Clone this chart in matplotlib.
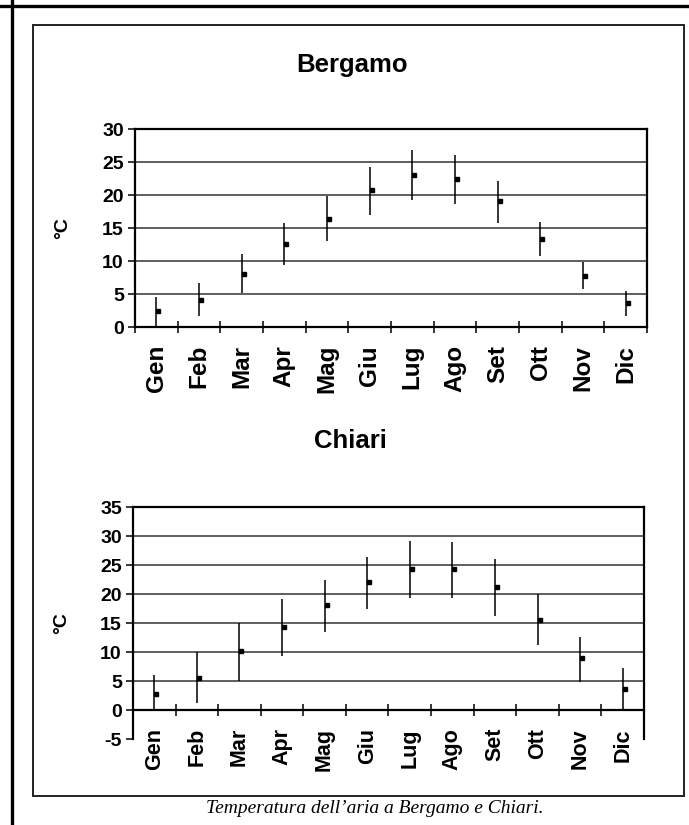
import matplotlib
matplotlib.use('Agg')
import matplotlib.pyplot as plt
import matplotlib.transforms as mtransforms
from matplotlib.lines import Line2D
from matplotlib.patches import Rectangle

mesi = ['Gen', 'Feb', 'Mar', 'Apr', 'Mag', 'Giu', 'Lug', 'Ago', 'Set', 'Ott', 'Nov', 'Dic']

# Bergamo: media, minima e massima (°C)
bg_media = [2.5, 4.1, 8.1, 12.6, 16.4, 20.7, 23.0, 22.4, 19.1, 13.4, 7.7, 3.6]
bg_min = [0.0, 1.6, 5.2, 9.4, 13.1, 17.0, 19.2, 18.6, 15.7, 10.8, 5.7, 1.6]
bg_max = [4.5, 6.7, 11.0, 15.8, 19.8, 24.2, 26.8, 26.1, 22.2, 15.9, 9.8, 5.5]

# Chiari
ch_media = [2.7, 5.5, 10.2, 14.4, 18.1, 22.0, 24.4, 24.3, 21.2, 15.6, 8.9, 3.7]
ch_min = [0.0, 1.2, 5.0, 9.4, 13.5, 17.4, 19.4, 19.3, 16.2, 11.2, 4.8, 0.0]
ch_max = [6.1, 10.0, 15.0, 19.1, 22.5, 26.4, 29.1, 29.0, 26.0, 20.0, 12.6, 7.3]

plt.rcParams['font.family'] = ['Liberation Sans', 'DejaVu Sans']
plt.rcParams['font.weight'] = 'bold'
plt.rcParams['axes.unicode_minus'] = False

fig = plt.figure(figsize=(6.89, 8.25), dpi=100)

# cornice e bordi della pagina
fig.add_artist(Rectangle((0.0479, 0.0352), 0.9448, 0.9345, transform=fig.transFigure,
                         fill=False, lw=1.4, ec='#222222'))
fig.add_artist(Line2D([0, 1], [0.9927, 0.9927], transform=fig.transFigure, lw=2.4, color='black'))
fig.add_artist(Line2D([0.0174, 0.0174], [0, 1], transform=fig.transFigure, lw=2.4, color='black'))


def grafico(ax, media, tmin, tmax, ymin, ymax, fs_mesi):
    if ymin < 0:
        # asse x sullo zero, come in Excel
        ax.spines['bottom'].set_position(('data', 0))
    x = list(range(len(mesi)))
    ax.vlines(x, tmin, tmax, color='black', lw=1.1, zorder=3)
    off = mtransforms.ScaledTranslation(2 / 100, 0, fig.dpi_scale_trans)
    ax.plot(x, media, ls='none', marker='s', ms=3.2, color='black',
            transform=ax.transData + off, zorder=4)
    ax.set_xlim(-0.5, len(mesi) - 0.5)
    ax.set_ylim(ymin, ymax)
    ax.set_yticks(range(ymin, ymax + 1, 5))
    ax.set_xticks(x)
    ax.set_xticklabels(mesi, rotation=90, fontsize=fs_mesi, fontweight='bold')
    ax.set_xticks([i - 0.5 for i in range(len(mesi) + 1)], minor=True)
    ax.tick_params(axis='x', which='major', length=0, pad=13)
    ax.tick_params(axis='x', which='minor', direction='inout', length=8, width=1.1)
    ax.tick_params(axis='y', direction='out', length=5, width=1.1, pad=3, labelsize=14)
    for s in ax.spines.values():
        s.set_linewidth(1.6)
    ax.yaxis.grid(True, color='#333333', lw=1.1)
    ax.set_axisbelow(True)
    if ymin < 0:
        ax.get_ygridlines()[0].set_visible(False)


ax1 = fig.add_axes([0.1959, 0.6036, 0.7431, 0.24])
grafico(ax1, bg_media, bg_min, bg_max, 0, 30, 17.5)

ax2 = fig.add_axes([0.193, 0.1042, 0.7417, 0.2812])
grafico(ax2, ch_media, ch_min, ch_max, -5, 35, 15.5)

fig.text(0.511, 0.921, 'Bergamo', ha='center', va='center', fontsize=18.5, fontweight='bold')
fig.text(0.508, 0.4655, 'Chiari', ha='center', va='center', fontsize=18.5, fontweight='bold')
fig.text(0.0915, 0.7236, '°C', rotation=90, ha='center', va='center', fontsize=14, fontweight='bold')
fig.text(0.09, 0.2448, '°C', rotation=90, ha='center', va='center', fontsize=14, fontweight='bold')

fig.text(0.544, 0.0206, 'Temperatura dell’aria a Bergamo e Chiari.', ha='center', va='center',
         fontsize=14, fontstyle='italic', fontweight='normal',
         family=['Liberation Serif', 'DejaVu Serif'])

fig.savefig('out.png', dpi=100)
